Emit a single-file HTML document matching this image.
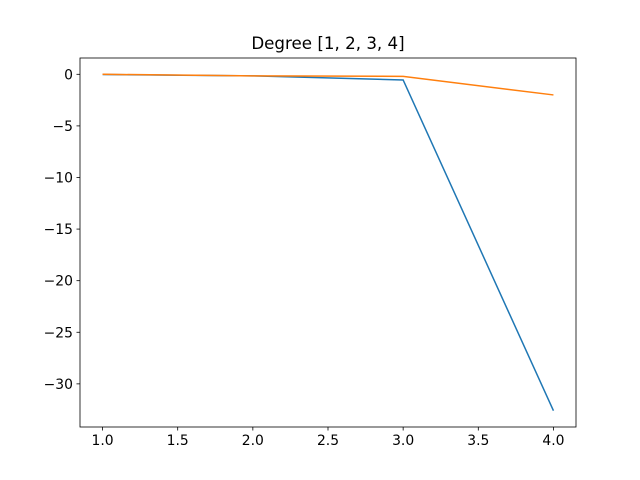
<!DOCTYPE html>
<html><head><meta charset="utf-8"><style>body{margin:0;background:#fff}svg{display:block}text{font-family:"DejaVu Sans","Liberation Sans",sans-serif;fill:#000}</style></head>
<body>
<svg id="chart" width="640" height="480" xmlns="http://www.w3.org/2000/svg">
<text x="328" y="49" font-size="16.7" text-anchor="middle">Degree [1, 2, 3, 4]</text>
<g id="plot"></g>
</svg>
<script>
const xValues=[1,2,3,4];
const seriesBlue=[-0.02,-0.15,-0.55,-32.6];
const seriesOrange=[0,-0.15,-0.2,-2.0];
const xTicks=[1.0,1.5,2.0,2.5,3.0,3.5,4.0];
const yTicks=[0,-5,-10,-15,-20,-25,-30];
const L=80,R=576,T=58,B=427;
const xmin=0.85,xmax=4.15,ymin=-34.18,ymax=1.58;
const sx=v=>L+(v-xmin)/(xmax-xmin)*(R-L);
const sy=v=>B-(v-ymin)/(ymax-ymin)*(B-T);
const ns="http://www.w3.org/2000/svg";
const g=document.getElementById('plot');
function mk(t,a){const e=document.createElementNS(ns,t);for(const k in a)e.setAttribute(k,a[k]);g.appendChild(e);return e;}
function line(vals,color,name){
 const p=mk('polyline',{points:xValues.map((x,i)=>sx(x)+','+sy(vals[i])).join(' '),fill:'none',stroke:color,'stroke-width':1.5});
 
 
}
line(seriesBlue,'#1f77b4','series-blue');
line(seriesOrange,'#ff7f0e','series-orange');
const frame=mk('rect',{x:L,y:T,width:R-L,height:B-T,fill:'none',stroke:'#000','stroke-width':0.8});


xTicks.forEach(v=>{
 const x=sx(v);
 mk('line',{x1:x,x2:x,y1:B,y2:B+3.5,stroke:'#000','stroke-width':0.8});
 const t=mk('text',{x:x,y:B+18,'font-size':13.9,'text-anchor':'middle'});
 t.textContent=v.toFixed(1);
 
 
});
yTicks.forEach(v=>{
 const y=sy(v);
 mk('line',{x1:L-3.5,x2:L,y1:y,y2:y,stroke:'#000','stroke-width':0.8});
 const t=mk('text',{x:L-7,y:y+5,'font-size':13.9,'text-anchor':'end'});
 t.textContent=v<0?'\u2212'+Math.abs(v):String(v);
 
 
});
</script>
</body></html>
